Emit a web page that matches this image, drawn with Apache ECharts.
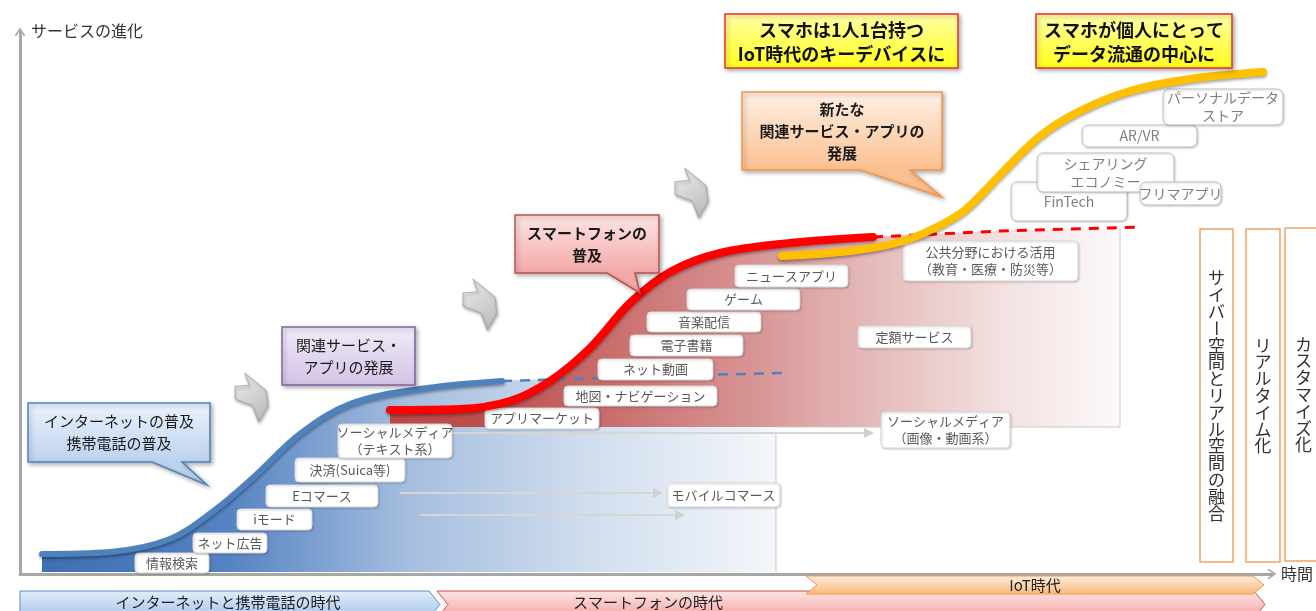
<!DOCTYPE html>
<html>
<head>
<meta charset="utf-8">
<title>サービスの進化</title>
<script src="https://cdn.jsdelivr.net/npm/echarts@6.0.0/dist/echarts.min.js"></script>
<style>
  html, body { margin: 0; padding: 0; background: #fff; }
  #chart { width: 1316px; height: 611px; }
</style>
</head>
<body>
<div id="chart"></div>
<script>
// ---- values: x = time, y = service level (screen units, y grows downward) ----
const internetCurve = [[42,554],[110,552],[170,539],[215,510],[255,476],[300,434],[350,404],[420,389],[502,381]];
const internetTrend = [[502,381],[600,378],[700,375],[783,373]];
const smartphoneCurve = [[390,410],[460,409],[510,401],[550,381],[590,348],[630,303],[670,272],[720,253],[790,243],[873,237]];
const smartphoneTrend = [[873,237],[1000,231],[1140,227]];
const iotCurve = [[782,256],[850,251],[900,242],[935,228],[965,210],[1000,175],[1040,136],[1080,111],[1130,91],[1190,79],[1263,72]];

// ---- texts ----
const internetServices = ['情報検索','ネット広告','iモード','Eコマース','決済(Suica等)','ソーシャルメディア\n（テキスト系）','モバイルコマース'];
const smartphoneServices = ['アプリマーケット','地図・ナビゲーション','ネット動画','電子書籍','音楽配信','ゲーム','ニュースアプリ','公共分野における活用\n（教育・医療・防災等）','定額サービス','ソーシャルメディア\n（画像・動画系）'];
const iotServices = ['FinTech','シェアリング\nエコノミー','フリマアプリ','AR/VR','パーソナルデータ\nストア'];
const phaseNotes = ['インターネットの普及\n携帯電話の普及','関連サービス・\nアプリの発展','スマートフォンの\n普及','新たな\n関連サービス・アプリの\n発展'];
const headlines = ['スマホは1人1台持つ\nIoT時代のキーデバイスに','スマホが個人にとって\nデータ流通の中心に'];
const trends = ['サイバー空間とリアル空間の融合','リアルタイム化','カスタマイズ化'];
const eras = ['インターネットと携帯電話の時代','スマートフォンの時代','IoT時代'];
const yName = 'サービスの進化';
const xName = '時間';

// ---- layout: boxes as [left, top, right, bottom] in axis units ----
const internetBoxes = [[135,553,209,573],[193,533,267,553],[237,509,312,530],[266,485,378,507],[295,458,405,482],[338,424,452,458],[667,483,780,507]];
const smartphoneBoxes = [[485,408,599,429],[564,386,717,406],[598,359,713,380],[630,335,743,356],[647,312,761,332],[687,289,800,310],[735,265,848,287],[903,241,1078,281],[858,326,971,348],[881,412,1010,448]];
const iotBoxes = [[1011,182,1127,221],[1037,153,1174,192],[1140,182,1221,205],[1082,125,1197,147],[1163,89,1283,125]];
// callout box + tail [tailBaseLeft, tailBaseRight, tipX, tipY]
const noteBoxes = [[28,403,210,462],[282,327,415,385],[515,215,659,273],[742,92,942,170]];
const noteTails = [[152,182,207,485],null,[607,635,640,293],[860,910,942,197]];
const noteStyles = [
  {top:'#eaf2fc', bottom:'#bcd2ee', stroke:'#4f81bd', bold:false},
  {top:'#f1ebf8', bottom:'#d3c3e6', stroke:'#8064a2', bold:false},
  {top:'#fde4e4', bottom:'#f4a8a8', stroke:'#c0504d', bold:true},
  {top:'#fef0e5', bottom:'#fbc08f', stroke:'#f79646', bold:true}
];
const headlineBoxes = [[725,14,958,68],[1036,14,1232,68]];
const trendBoxes = [[1200,229,1233,562],[1246,229,1280,562],[1285,228,1322,561]];
const eraBoxes = [[20,591,440,618],[437,591,1265,618],[806,576,1264,594]];
const eraTextX = [228,648,1035];
const eraStyles = [
  {top:'#e0ecfa', bottom:'#a9c5ec', stroke:'#5b8bd0', notch:false},
  {top:'#fde4e4', bottom:'#f5a4a4', stroke:'#c9504d', notch:true},
  {top:'#fdede0', bottom:'#fbb87a', stroke:'#f79646', notch:true}
];
const carryArrows = [[[400,493],[663,493]],[[420,515],[685,515]],[[453,433],[874,433]]];
const boltBoxes = [[235,373,268,422],[463,279,497,330],[675,168,708,218]];
const boltShape = [[0.29,0],[0.94,0.35],[1,0.67],[0.71,1],[0.52,0.66],[0,0.53],[0,0.27],[0.44,0.25]];
// shaded bands under each curve: curve, right edge, floor
const blueBand = internetCurve.concat([[600,378],[700,375],[776,374]]);
const blueFloor = 572;
const redBand = smartphoneCurve.concat([[1000,231],[1120,228]]);
const redFloor = 427;
const bandFrames = [[[776,433],[776,572]], [[1120,228],[1120,427],[776,427]]];

const FONT = "'Noto Sans CJK JP', 'Noto Sans', sans-serif";
const chevron = 'path://M0,9 L6,0 L12,9 L10.6,10.4 L6,3.2 L1.4,10.4 Z';
const G = echarts.graphic;
const SMOOTH = 0.35;

function bandSeries(data, floor, x0, x1, stops, z) {
  return {
    type: 'line', data: data, z: z, silent: true, clip: false,
    symbol: 'none', smooth: SMOOTH,
    lineStyle: { width: 0, opacity: 0 },
    areaStyle: { origin: floor, opacity: 1, color: new G.LinearGradient(x0, 0, x1, 0, stops, true) }
  };
}

function labelSeries(texts, boxes, opt) {
  return {
    type: 'custom', silent: true, z: opt.z || 4, clip: false,
    data: boxes.map(b => b.slice()),
    renderItem(params, api) {
      const i = params.dataIndex;
      const p0 = api.coord([api.value(0), api.value(1)]);
      const p1 = api.coord([api.value(2), api.value(3)]);
      return {
        type: 'group',
        children: [
          { type: 'rect', shape: { x: p0[0], y: p0[1], width: p1[0] - p0[0], height: p1[1] - p0[1], r: opt.r },
            style: { fill: '#ffffff', stroke: opt.stroke, lineWidth: 1,
                     shadowColor: 'rgba(0,0,0,0.18)', shadowBlur: 2, shadowOffsetX: 1, shadowOffsetY: 1 } },
          { type: 'text', x: (p0[0] + p1[0]) / 2, y: (p0[1] + p1[1]) / 2,
            style: { text: texts[i], align: 'center', verticalAlign: 'middle', fill: opt.color,
                     fontFamily: FONT, fontSize: opt.size, lineHeight: opt.size + 4 } }
        ]
      };
    }
  };
}

function lineSeries(data, color, width, z, dashed) {
  return {
    type: 'line', data: data, z: z, silent: true, clip: false,
    symbol: 'none', smooth: dashed ? false : SMOOTH,
    lineStyle: dashed
      ? { color: color, width: width, type: [10, 8] }
      : { color: color, width: width, cap: 'round', shadowColor: 'rgba(0,0,0,0.35)', shadowBlur: 3, shadowOffsetY: 2 }
  };
}

const option = {
  backgroundColor: '#ffffff',
  animation: false,
  textStyle: { fontFamily: FONT },
  title: { text: yName, left: 26, top: 18,
           textStyle: { fontSize: 16, fontWeight: 'normal', color: '#333', fontFamily: FONT } },
  grid: { left: 20, right: 44, top: 32, bottom: 37 },
  xAxis: {
    type: 'value', min: 20, max: 1272,
    axisLine: { show: true, onZero: false, symbol: ['none', chevron], symbolSize: [13, 9],
                lineStyle: { color: '#a6a6a6', width: 3 } },
    axisTick: { show: false }, axisLabel: { show: false }, splitLine: { show: false },
    name: xName, nameLocation: 'end', nameGap: 9,
    nameTextStyle: { fontSize: 16, color: '#333', fontFamily: FONT }
  },
  yAxis: [
    { type: 'value', inverse: true, min: 32, max: 574, show: false },
    { type: 'value', min: 0, max: 1, position: 'left',
      axisLine: { show: true, onZero: false, symbol: ['none', chevron], symbolSize: [13, 9],
                  lineStyle: { color: '#a6a6a6', width: 3 } },
      axisTick: { show: false }, axisLabel: { show: false }, splitLine: { show: false } }
  ],
  series: [
    bandSeries(blueBand, blueFloor, 42, 776, [
      { offset: 0, color: '#3e6fb4' }, { offset: 0.25, color: '#5482c2' },
      { offset: 0.5, color: '#a6bedf' }, { offset: 0.75, color: '#d1deee' }, { offset: 1, color: '#f4f7fb' }], 1),
    bandSeries(redBand, redFloor, 390, 1120, [
      { offset: 0, color: '#b84946' }, { offset: 0.15, color: '#bd514e' },
      { offset: 0.49, color: '#d79393' }, { offset: 0.63, color: '#e3b3b3' },
      { offset: 0.84, color: '#f3e1e1' }, { offset: 1, color: '#fdf9f9' }], 2),
    {
      type: 'custom', silent: true, z: 2, clip: false,
      data: bandFrames.map((f, i) => [i, 0]),
      renderItem(params, api) {
        const pts = bandFrames[params.dataIndex].map(p => api.coord(p));
        return { type: 'polyline', shape: { points: pts }, style: { stroke: '#c8c8c8', lineWidth: 1, fill: null } };
      }
    },
    {
      type: 'custom', silent: true, z: 3, clip: false,
      data: carryArrows.map(a => [a[0][0], a[0][1], a[1][0], a[1][1]]),
      renderItem(params, api) {
        const a = api.coord([api.value(0), api.value(1)]);
        const b = api.coord([api.value(2), api.value(3)]);
        return { type: 'group', children: [
          { type: 'line', shape: { x1: a[0], y1: a[1], x2: b[0] - 8, y2: b[1] }, style: { stroke: '#d6d6d6', lineWidth: 2 } },
          { type: 'polygon', shape: { points: [[b[0] - 10, b[1] - 5], [b[0], b[1]], [b[0] - 10, b[1] + 5]] }, style: { fill: '#d0d0d0' } }
        ] };
      }
    },
    lineSeries(internetTrend, '#4f81bd', 2.5, 3, true),
    lineSeries(smartphoneTrend, '#ff0000', 3, 3, true),
    labelSeries(internetServices, internetBoxes, { r: 4, stroke: '#d9d9d9', color: '#595959', size: 13 }),
    labelSeries(smartphoneServices, smartphoneBoxes, { r: 4, stroke: '#d9d9d9', color: '#595959', size: 13 }),
    labelSeries(iotServices, iotBoxes, { r: 6, stroke: '#bfbfbf', color: '#7f7f7f', size: 14 }),
    lineSeries(internetCurve, '#4f81bd', 6, 5, false),
    lineSeries(smartphoneCurve, '#ff0000', 8, 6, false),
    lineSeries(iotCurve, '#ffc000', 8, 7, false),
    {
      type: 'custom', silent: true, z: 8, clip: false,
      data: boltBoxes.map(b => b.slice()),
      renderItem(params, api) {
        const p0 = api.coord([api.value(0), api.value(1)]);
        const p1 = api.coord([api.value(2), api.value(3)]);
        const w = p1[0] - p0[0], h = p1[1] - p0[1];
        const pts = boltShape.map(s => [p0[0] + s[0] * w, p0[1] + s[1] * h]);
        return { type: 'polygon', shape: { points: pts },
          style: { fill: new G.LinearGradient(0, 0, 1, 1, [{ offset: 0, color: '#f0f0f0' }, { offset: 1, color: '#b5b5b5' }]),
                   stroke: '#a3a3a3', lineWidth: 0.8,
                   shadowColor: 'rgba(0,0,0,0.3)', shadowBlur: 3, shadowOffsetX: 1, shadowOffsetY: 2 } };
      }
    },
    {
      type: 'custom', silent: true, z: 9, clip: false,
      data: noteBoxes.map(b => b.slice()),
      renderItem(params, api) {
        const i = params.dataIndex;
        const st = noteStyles[i];
        const p0 = api.coord([api.value(0), api.value(1)]);
        const p1 = api.coord([api.value(2), api.value(3)]);
        let pts = [[p0[0], p0[1]], [p1[0], p0[1]], [p1[0], p1[1]]];
        const t = noteTails[i];
        if (t) {
          const a = api.coord([t[0], 0])[0], b = api.coord([t[1], 0])[0];
          const tip = api.coord([t[2], t[3]]);
          pts.push([b, p1[1]], tip, [a, p1[1]]);
        }
        pts.push([p0[0], p1[1]]);
        return { type: 'group', children: [
          { type: 'polygon', shape: { points: pts },
            style: { fill: new G.LinearGradient(0, p0[1], 0, p1[1], [{ offset: 0, color: st.top }, { offset: 1, color: st.bottom }], true),
                     stroke: st.stroke, lineWidth: 1.5,
                     shadowColor: 'rgba(0,0,0,0.3)', shadowBlur: 4, shadowOffsetX: 2, shadowOffsetY: 2 } },
          { type: 'text', x: (p0[0] + p1[0]) / 2, y: (p0[1] + p1[1]) / 2,
            style: { text: phaseNotes[i], align: 'center', verticalAlign: 'middle', fill: '#1a1a1a',
                     fontFamily: FONT, fontSize: 15, fontWeight: st.bold ? 'bold' : 'normal', lineHeight: 22 } }
        ] };
      }
    },
    {
      type: 'custom', silent: true, z: 9, clip: false,
      data: headlineBoxes.map(b => b.slice()),
      renderItem(params, api) {
        const i = params.dataIndex;
        const p0 = api.coord([api.value(0), api.value(1)]);
        const p1 = api.coord([api.value(2), api.value(3)]);
        return { type: 'group', children: [
          { type: 'rect', shape: { x: p0[0], y: p0[1], width: p1[0] - p0[0], height: p1[1] - p0[1] },
            style: { fill: new G.LinearGradient(0, p0[1], 0, p1[1], [{ offset: 0, color: '#ffffa8' }, { offset: 1, color: '#ffff1a' }], true),
                     stroke: '#e8302c', lineWidth: 1.5,
                     shadowColor: 'rgba(0,0,0,0.3)', shadowBlur: 4, shadowOffsetX: 2, shadowOffsetY: 2 } },
          { type: 'text', x: (p0[0] + p1[0]) / 2, y: (p0[1] + p1[1]) / 2 + 1,
            style: { text: headlines[i], align: 'center', verticalAlign: 'middle', fill: '#111',
                     fontFamily: FONT, fontSize: 18, fontWeight: 'bold', lineHeight: 24 } }
        ] };
      }
    },
    {
      type: 'custom', silent: true, z: 4, clip: false,
      data: trendBoxes.map(b => b.slice()),
      renderItem(params, api) {
        const i = params.dataIndex;
        const p0 = api.coord([api.value(0), api.value(1)]);
        const p1 = api.coord([api.value(2), api.value(3)]);
        const chars = Array.from(trends[i]);
        const pitch = 16.8;
        const cx = (p0[0] + p1[0]) / 2;
        const y0 = (p0[1] + p1[1]) / 2 - (chars.length - 1) * pitch / 2;
        const children = [
          { type: 'rect', shape: { x: p0[0], y: p0[1], width: p1[0] - p0[0], height: p1[1] - p0[1] },
            style: { fill: '#ffffff', stroke: '#f4a263', lineWidth: 1.5 } }
        ];
        chars.forEach((c, k) => {
          children.push({ type: 'text', x: cx, y: y0 + k * pitch, rotation: c === 'ー' ? -Math.PI / 2 : 0,
            style: { text: c, align: 'center', verticalAlign: 'middle', fill: '#333',
                     fontFamily: FONT, fontSize: 17 } });
        });
        return { type: 'group', children: children };
      }
    },
    {
      type: 'custom', silent: true, z: 4, clip: false,
      data: eraBoxes.map(b => b.slice()),
      renderItem(params, api) {
        const i = params.dataIndex;
        const st = eraStyles[i];
        const p0 = api.coord([api.value(0), api.value(1)]);
        const p1 = api.coord([api.value(2), api.value(3)]);
        const d = 11, ym = (p0[1] + p1[1]) / 2;
        const pts = [[p0[0], p0[1]], [p1[0] - d, p0[1]], [p1[0], ym], [p1[0] - d, p1[1]], [p0[0], p1[1]]];
        if (st.notch) pts.push([p0[0] + d, ym]);
        const tx = api.coord([eraTextX[i], 0])[0];
        const ty = i === 2 ? ym : api.coord([0, 602])[1];
        return { type: 'group', children: [
          { type: 'polygon', shape: { points: pts },
            style: { fill: new G.LinearGradient(0, p0[1], 0, p1[1], [{ offset: 0, color: st.top }, { offset: 1, color: st.bottom }], true),
                     stroke: st.stroke, lineWidth: 1 } },
          { type: 'text', x: tx, y: ty,
            style: { text: eras[i], align: 'center', verticalAlign: 'middle', fill: '#222',
                     fontFamily: FONT, fontSize: 15 } }
        ] };
      }
    }
  ]
};

const chart = echarts.init(document.getElementById('chart'), null, { renderer: 'canvas' });
chart.setOption(option);
</script>
</body>
</html>
